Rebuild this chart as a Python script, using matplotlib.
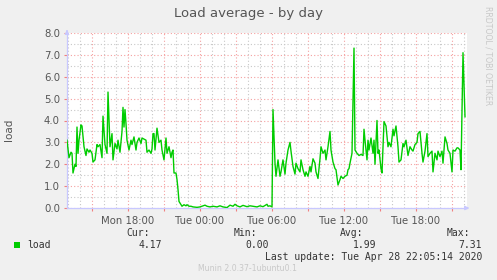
import matplotlib
matplotlib.use("Agg")
import matplotlib.pyplot as plt
import numpy as np

# minutes since Mon 2020-04-27 13:00
minutes = [-5, 5, 15, 20, 25, 35, 40, 45, 50, 55, 65, 70, 80, 90, 95, 105, 110, 120, 125, 135,
           145, 150, 160, 170, 175, 185, 195, 200, 210, 220, 225, 235, 245, 250, 260, 270, 275, 280,
           285, 290, 295, 305, 315, 320, 330, 340, 345, 355, 365, 370, 380, 390, 395, 405, 415, 420,
           425, 430, 435, 445, 455, 465, 470, 480, 490, 495, 505, 515, 520, 525, 530, 540, 545, 550,
           555, 565, 570, 580, 590, 595, 605, 615, 625, 645, 660, 675, 685, 695, 710, 725, 745, 760,
           775, 795, 810, 825, 835, 845, 860, 875, 895, 910, 925, 945, 960, 975, 995, 1000, 1010, 1020,
           1025, 1035, 1040, 1050, 1060, 1065, 1075, 1085, 1090, 1100, 1110, 1115, 1125, 1135, 1140,
           1150, 1160, 1165, 1175, 1185, 1190, 1200, 1210, 1215, 1225, 1235, 1240, 1250, 1260, 1265,
           1275, 1285, 1290, 1300, 1310, 1315, 1325, 1335, 1340, 1350, 1360, 1365, 1375, 1385, 1395,
           1400, 1405, 1410, 1420, 1430, 1435, 1445, 1455, 1465, 1475, 1480, 1485, 1495, 1500, 1505,
           1515, 1525, 1530, 1535, 1545, 1550, 1555, 1565, 1570, 1580, 1590, 1600, 1605, 1615, 1625,
           1630, 1640, 1650, 1655, 1665, 1675, 1680, 1690, 1700, 1710, 1720, 1725, 1735, 1745, 1750,
           1760, 1770, 1775, 1785, 1795, 1800, 1810, 1820, 1825, 1835, 1845, 1850, 1860, 1870, 1875,
           1885, 1895, 1900, 1910, 1920, 1925, 1935, 1945, 1950, 1960, 1965, 1975, 1985]
load = [3.1, 2.3, 2.55, 2.5, 1.6, 2.0, 1.9, 3.7, 2.5, 3.1, 3.8, 3.75, 2.8, 2.4, 2.7, 2.55, 2.65, 2.5, 2.1, 2.2,
        2.9, 2.8, 2.9, 2.3, 4.2, 2.9, 2.5, 5.3, 2.8, 3.4, 2.2, 2.95, 2.7, 3.1, 2.55, 3.5, 4.6, 3.7,
        4.5, 3.85, 3.1, 2.65, 3.1, 2.9, 3.25, 2.65, 3.0, 3.2, 2.95, 3.2, 3.15, 3.1, 2.55, 2.65, 2.5, 2.7,
        3.4, 3.4, 2.65, 3.65, 3.0, 3.1, 2.65, 2.2, 3.2, 2.5, 2.8, 2.3, 2.55, 2.65, 1.6, 1.6, 1.3, 0.85,
        0.3, 0.15, 0.08, 0.15, 0.1, 0.15, 0.08, 0.08, 0.05, 0.03, 0.05, 0.1, 0.13, 0.08, 0.05, 0.08, 0.05, 0.1,
        0.05, 0.02, 0.13, 0.08, 0.17, 0.1, 0.05, 0.12, 0.06, 0.1, 0.08, 0.05, 0.1, 0.06, 0.17, 0.08, 0.1, 0.05,
        4.5, 2.05, 1.45, 2.2, 1.45, 1.65, 2.2, 1.55, 2.05, 2.65, 3.0, 2.6, 1.9, 1.55, 2.05,
        1.8, 1.65, 2.2, 1.75, 1.45, 1.65, 1.45, 1.9, 1.65, 2.25, 2.05, 1.65, 1.35, 2.25, 2.8,
        2.5, 2.65, 2.2, 2.8, 3.5, 2.65, 2.1, 1.8, 1.75, 1.05, 1.3, 1.45, 1.35, 1.45, 1.5,
        1.75, 1.8, 2.05, 2.5, 7.31, 2.65, 2.5, 2.4, 2.45, 2.4, 3.6, 3.1, 2.2, 3.1, 2.65,
        3.2, 2.5, 3.1, 2.0, 4.0, 2.5, 2.65, 1.8, 1.6, 3.95, 3.75, 2.8, 3.0, 2.8, 3.6,
        3.3, 3.75, 2.8, 2.1, 2.2, 2.95, 2.8, 3.1, 2.4, 2.8, 2.65, 2.6, 2.9, 3.0, 3.4,
        3.5, 2.5, 2.1, 2.6, 3.4, 2.35, 2.5, 2.6, 1.65, 2.5, 2.2, 2.6, 2.35, 2.6, 2.05,
        3.25, 2.95, 2.65, 2.5, 1.65, 2.65, 2.6, 2.75, 2.75, 2.65, 1.75, 7.1, 4.17]

x_range = (-5, 1995)
x_label_pos = [300, 660, 1020, 1380, 1740]
x_labels = ["Mon 18:00", "Tue 00:00", "Tue 06:00", "Tue 12:00", "Tue 18:00"]
y_ticks = [0, 1, 2, 3, 4, 5, 6, 7, 8]

stats_names = ["Cur:", "Min:", "Avg:", "Max:"]
stats_vals = ["4.17", "0.00", "1.99", "7.31"]

W, H = 497, 280
fig = plt.figure(figsize=(W / 100, H / 100), dpi=100, facecolor="#f0f0f0")
ax = fig.add_axes([67 / W, (H - 208) / H, 400 / W, 175 / H])
ax.set_facecolor("white")

ax.plot(minutes, load, color="#00cc00", lw=1.0, zorder=3, solid_joinstyle="round")

ax.set_xlim(*x_range)
ax.set_ylim(0, 8)

major_x = np.arange(120, 1995, 180)
minor_x = np.arange(0, 1995, 60)
ax.set_xticks(major_x)
ax.set_xticklabels([x_labels[x_label_pos.index(m)] if m in x_label_pos else "" for m in major_x])
ax.set_xticks(minor_x, minor=True)
ax.set_yticks(y_ticks)
ax.set_yticklabels([f"{v:.1f}" for v in y_ticks])
ax.set_yticks(np.arange(0.5, 8, 1.0), minor=True)

dot = (0, (1, 2))
ax.grid(which="major", color="#f5a0a0", ls=dot, lw=0.8)
ax.grid(which="minor", color="#c8c8c8", ls=dot, lw=0.8)
ax.set_axisbelow(True)

ax.tick_params(axis="both", which="major", length=2, width=0.8, color="#f08080",
               labelsize=7.3, labelcolor="#555555", pad=3)
ax.tick_params(axis="both", which="minor", length=0)
ax.tick_params(axis="x", pad=4)

for s in ["top", "right"]:
    ax.spines[s].set_visible(False)
for s in ["left", "bottom"]:
    ax.spines[s].set_color("#c8c8ff")
    ax.spines[s].set_linewidth(0.9)

# axis arrows
ax.annotate("", xy=(1.013, 0), xytext=(0.99, 0), xycoords="axes fraction",
            arrowprops=dict(arrowstyle="-|>", color="#c8c8ff", lw=0.9, mutation_scale=6),
            annotation_clip=False)
ax.annotate("", xy=(0, 1.035), xytext=(0, 0.99), xycoords="axes fraction",
            arrowprops=dict(arrowstyle="-|>", color="#c8c8ff", lw=0.9, mutation_scale=6),
            annotation_clip=False)

def px(x, y):
    return x / W, 1 - y / H

fig.text(*px(248, 14), "Load average - by day", ha="center", va="center",
         fontsize=9.5, color="#555555")
fig.text(*px(9, 130), "load", ha="center", va="center", rotation=90,
         fontsize=7.5, color="#555555")
fig.text(*px(488, 56), "RRDTOOL / TOBI OETIKER", ha="center", va="center", rotation=270,
         fontsize=5.6, color="#c8c8c8")

mono = "DejaVu Sans Mono"
fig.patches.append(plt.Rectangle(px(14, 248), 6 / W, 6 / H, transform=fig.transFigure,
                                 facecolor="#00cc00", edgecolor="none"))
fig.text(*px(27, 244.5), "load", ha="left", va="center", family=mono, fontsize=7, color="#333333")
name_right = [150, 257, 363, 470]
val_right = [162, 269, 376, 482]
for n, v, xn, xv in zip(stats_names, stats_vals, name_right, val_right):
    fig.text(*px(xn, 233.5), n, ha="right", va="center", family=mono, fontsize=7, color="#333333")
    fig.text(*px(xv, 244.5), v, ha="right", va="center", family=mono, fontsize=7, color="#333333")
fig.text(*px(482, 256.5), "Last update: Tue Apr 28 22:05:14 2020", ha="right", va="center",
         family=mono, fontsize=7, color="#333333")
fig.text(*px(247.5, 268.5), "Munin 2.0.37-1ubuntu0.1", ha="center", va="center",
         fontsize=5.6, color="#c8c8c8")

fig.savefig("out.png", dpi=100, facecolor=fig.get_facecolor())
